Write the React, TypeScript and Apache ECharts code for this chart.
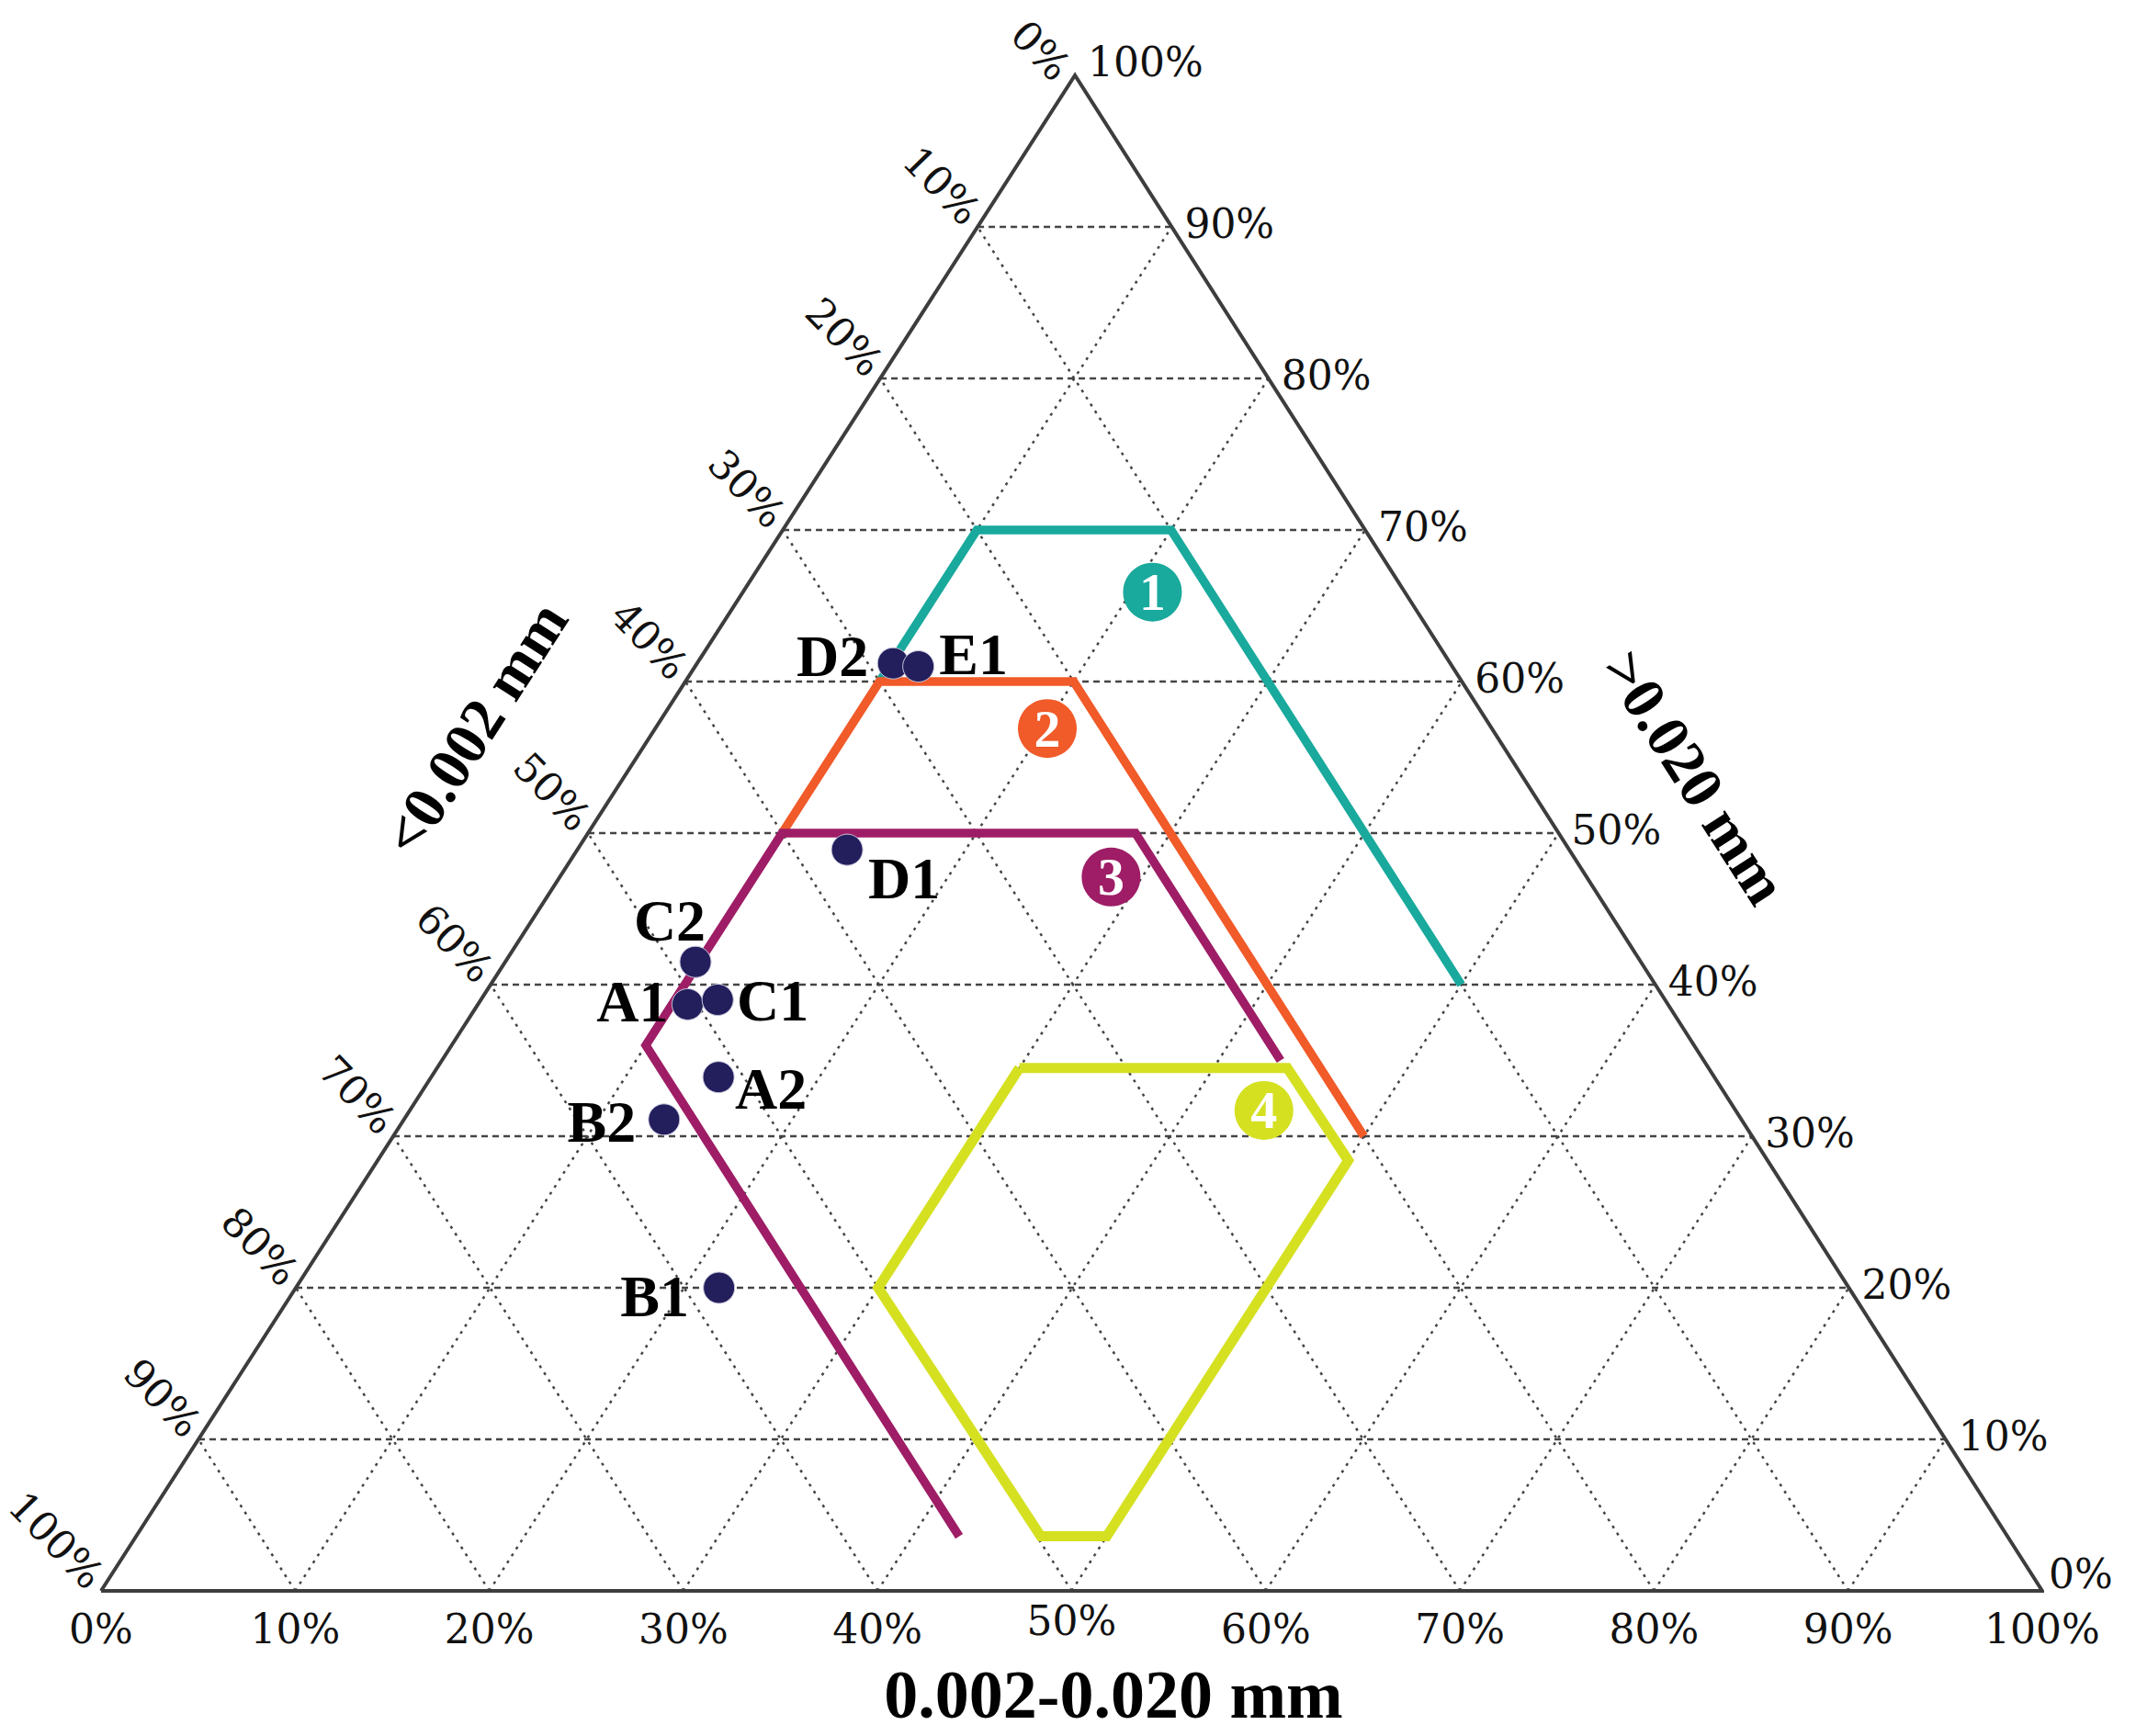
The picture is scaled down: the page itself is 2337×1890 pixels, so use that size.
import React, { useEffect, useRef } from "react";
import * as echarts from "echarts";

// ---- Data (percent) ----
const SAMPLES = ["A1", "A2", "B1", "B2", "C1", "C2", "D1", "D2", "E1"];
const SAND = [38.7, 33.9, 20.0, 31.1, 39.0, 41.5, 48.9, 61.2, 61.0]; // >0.020 mm
const SILT = [10.8, 14.8, 21.8, 13.4, 12.2, 9.8, 13.9, 10.1, 11.5]; // 0.002-0.020 mm
const CLAY = [50.5, 51.3, 58.2, 55.5, 48.8, 48.7, 37.2, 28.7, 27.5]; // <0.002 mm

const TICKS = [0, 10, 20, 30, 40, 50, 60, 70, 80, 90, 100];

// zone boundaries as [sand, silt] vertices
const ZONE_1 = [[60, 10], [70, 10], [70, 20], [40, 50]];
const ZONE_2 = [[50, 10], [60, 10], [60, 20], [30, 50]];
const ZONE_3 = [[3.6, 42.4], [36, 10], [50, 10], [50, 28.2], [35, 43.2]];
const ZONE_4 = [[34.5, 30], [34.5, 43.8], [28.4, 50], [3.6, 50], [3.6, 46.6], [20, 30], [34.5, 30]];

const ZONE_NAMES = ["1", "2", "3", "4"];
const ZONE_LABEL_SAND = [65.9, 56.9, 47.1, 31.7];
const ZONE_LABEL_SILT = [21.1, 20.2, 28.4, 44.0];

const TITLE_BOTTOM = "0.002-0.020 mm";
const TITLE_LEFT = "<0.002 mm";
const TITLE_RIGHT = ">0.020 mm";

// ---- styles ----
const TEAL = "#19a99d";
const ORANGE = "#f15a29";
const PURPLE = "#9e1d66";
const YELLOW = "#d5e021";
const ZONE_COLORS = [TEAL, ORANGE, PURPLE, YELLOW];
const ZONE_WIDTHS = [9.5, 9.5, 9.5, 11];
const MARKER = "#231e5c";
const TOP_X = 50.17; // x-position (percent of base) of the apex

const LABEL_OFFSET: Record<string, [number, number]> = {
  A1: [-60, -3],
  A2: [57, 13],
  B1: [-70, 9],
  B2: [-68, 3],
  C1: [60, 1],
  C2: [-28, -45],
  D1: [62, 31],
  D2: [-66, -8],
  E1: [60, -13],
};

const P = (sand: number, silt: number): [number, number] => [silt + (sand * TOP_X) / 100, sand];

export default function App() {
  const ref = useRef<HTMLDivElement>(null);
  useEffect(() => {
    const chart = echarts.init(ref.current!, null, { renderer: "svg" });
    const series: any[] = [];
    const seg = (pts: number[][], lineStyle: any, z: number) =>
      series.push({
        type: "line",
        data: pts,
        symbol: "none",
        silent: true,
        clip: false,
        lineStyle,
        z,
      });
    for (let k = 10; k <= 90; k += 10) {
      seg([P(k, 0), P(k, 100 - k)], { color: "#444", width: 2.5, type: [7, 5] }, 1);
      seg([P(0, k), P(100 - k, k)], { color: "#444", width: 2.5, type: [3, 6] }, 1);
      seg([P(0, 100 - k), P(100 - k, 0)], { color: "#444", width: 2.5, type: [3, 6] }, 1);
    }
    seg([P(0, 0), P(0, 100), P(100, 0), P(0, 0)], { color: "#3d3d3d", width: 4, join: "miter" }, 3);
    [ZONE_1, ZONE_2, ZONE_3, ZONE_4].forEach((zone, i) =>
      seg(
        zone.map(([s, t]) => P(s, t)),
        { color: ZONE_COLORS[i], width: ZONE_WIDTHS[i], join: "miter", cap: "butt", opacity: 1 },
        4 + i
      )
    );
    series.push({
      type: "scatter",
      z: 10,
      symbolSize: 64,
      silent: true,
      data: ZONE_NAMES.map((n, i) => ({
        name: n,
        value: P(ZONE_LABEL_SAND[i], ZONE_LABEL_SILT[i]),
        itemStyle: { color: ZONE_COLORS[i], opacity: 1 },
      })),
      label: {
        show: true,
        position: "inside",
        formatter: "{b}",
        color: "#fff",
        opacity: 1,
        fontFamily: "Liberation Serif",
        fontWeight: "bold",
        fontSize: 58,
      },
    });
    series.push({
      type: "scatter",
      z: 12,
      symbolSize: 34,
      data: SAMPLES.map((n, i) => ({
        name: n,
        value: P(SAND[i], SILT[i]),
        clay: CLAY[i],
        label: { offset: LABEL_OFFSET[n] },
      })),
      itemStyle: { color: MARKER, borderColor: "#c8c8dc", borderWidth: 1, opacity: 1 },
      label: {
        show: true,
        position: "inside",
        formatter: "{b}",
        color: "#000",
        opacity: 1,
        fontFamily: "Liberation Serif",
        fontWeight: "bold",
        fontSize: 64,
      },
    });

    chart.setOption({
      animation: false,
      backgroundColor: "#fff",
      grid: { left: 110, right: 114, top: 82, bottom: 158 },
      xAxis: { type: "value", min: 0, max: 100, show: false },
      yAxis: { type: "value", min: 0, max: 100, show: false },
      series,
    });

    const px = (s: number, t: number) => chart.convertToPixel({ gridIndex: 0 }, P(s, t)) as number[];
    const tickFont = { fontSize: 44, fontFamily: "DejaVu Serif", fill: "#111" };
    const graphics: any[] = [];
    TICKS.forEach((k) => {
      // bottom axis (silt)
      const [bx, by] = px(0, k);
      graphics.push({
        type: "text",
        x: bx,
        y: by + 41 + (k === 50 ? -9 : 0),
        style: { ...tickFont, text: k + "%", align: "center", verticalAlign: "middle" },
      });
      // right axis (sand)
      const [rx, ry] = px(k, 100 - k);
      graphics.push({
        type: "text",
        x: rx + (k === 0 ? 7 : 14),
        y: ry + (k === 100 ? -15 : k === 0 ? -19 : -4),
        style: { ...tickFont, text: k + "%", align: "left", verticalAlign: "middle" },
      });
      // left axis (clay)
      const [lx, ly] = px(100 - k, 0);
      graphics.push({
        type: "text",
        x: lx + (k === 0 ? -13 : -5),
        y: ly + (k === 0 ? -2 : -10),
        rotation: (-46 * Math.PI) / 180,
        style: { ...tickFont, text: k + "%", align: "right", verticalAlign: "middle" },
      });
    });
    const titleFont = { fontSize: 66, fontFamily: "Liberation Serif", fontWeight: "bold", fill: "#000" };
    const edgeAngle = Math.atan2(1650, 1060);
    graphics.push({
      type: "text",
      x: 1212,
      y: 1845,
      style: { ...titleFont, fontSize: 74, text: TITLE_BOTTOM, align: "center", verticalAlign: "middle" },
    });
    graphics.push({
      type: "text",
      x: 517,
      y: 793,
      rotation: edgeAngle,
      style: { ...titleFont, text: TITLE_LEFT, align: "center", verticalAlign: "middle" },
    });
    graphics.push({
      type: "text",
      x: 1845,
      y: 846,
      rotation: -edgeAngle,
      style: { ...titleFont, text: TITLE_RIGHT, align: "center", verticalAlign: "middle" },
    });
    chart.setOption({ graphic: graphics });

    return () => chart.dispose();
  }, []);
  return (
    <div
      ref={ref}
      style={{ position: "absolute", left: 0, top: 0, width: 2337, height: 1890, background: "#fff" }}
    />
  );
}
